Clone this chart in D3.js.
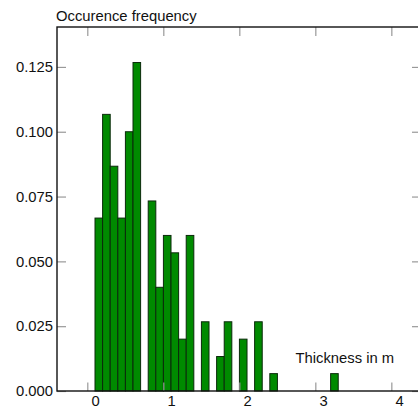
<!DOCTYPE html>
<html><head><meta charset="utf-8">
<script src="https://cdn.jsdelivr.net/npm/d3@7"></script>
<style>html,body{margin:0;padding:0;background:#fff;overflow:hidden}</style>
</head><body>
<script>
// Bin start values (m), bin width 0.1
const binStarts = [0.0,0.1,0.2,0.3,0.4,0.5,0.7,0.8,0.9,1.0,1.1,1.2,1.4,1.6,1.7,1.9,2.1,2.3,3.1];
const frequencies = [0.0667,0.1067,0.0867,0.0667,0.1000,0.1267,0.0733,0.0400,0.0600,0.0533,0.0200,0.0600,0.0267,0.0133,0.0267,0.0200,0.0267,0.0067,0.0067];
const binWidth = 0.1;
const xTicks = [0,1,2,3,4];
const yTicks = [0,0.025,0.05,0.075,0.1,0.125];
const yTitle = "Occurence frequency";
const xTitle = "Thickness in m";

(function(){
const W = 418, H = 409;
const mL = 57, mR = 421, mT = 27, mB = 391;
const svg = d3.select("body").append("svg").attr("width", W).attr("height", H)
  .style("font-family", "'Liberation Sans', Arial, sans-serif");

const x = d3.scaleLinear().domain([-0.5, 4.289]).range([mL, mR]);
const y = d3.scaleLinear().domain([0, 0.1404]).range([mB, mT]);

// bars
svg.append("g").selectAll("rect").data(binStarts).join("rect")
  .attr("x", (d) => x(d))
  .attr("width", (d) => x(d + binWidth) - x(d))
  .attr("y", (d, i) => y(frequencies[i]))
  .attr("height", (d, i) => y(0) - y(frequencies[i]))
  .attr("fill", "#008a00")
  .attr("stroke", "#0b2a0b")
  .attr("stroke-width", 1);

const tickOffset = -7.7;
const fs = "14.8px";
const ff = "'Liberation Sans', Arial, sans-serif";
// bottom axis
const gb = svg.append("g").attr("transform", `translate(0,${mB})`)
  .call(d3.axisBottom(x).tickValues(xTicks).tickFormat(d3.format("d")).tickSize(-8.5).tickPadding(6));
gb.select(".domain").remove();
gb.selectAll(".tick line").attr("x1", tickOffset).attr("x2", tickOffset).attr("stroke", "#999").attr("stroke-width", 1.2);
gb.selectAll(".tick text").attr("font-size", fs).attr("fill", "#111").attr("font-family", ff).attr("y", 15).attr("dy", "0");
// top axis ticks
const gt = svg.append("g").attr("transform", `translate(0,${mT})`)
  .call(d3.axisTop(x).tickValues(xTicks).tickFormat("").tickSize(-9));
gt.select(".domain").remove();
gt.selectAll(".tick line").attr("x1", tickOffset).attr("x2", tickOffset).attr("stroke", "#999").attr("stroke-width", 1.2);
// left axis
const gl = svg.append("g").attr("transform", `translate(${mL},0)`)
  .call(d3.axisLeft(y).tickValues(yTicks).tickFormat(d3.format(".3f")).tickSize(-9).tickPadding(4));
gl.select(".domain").remove();
gl.selectAll(".tick line").attr("stroke", "#999").attr("stroke-width", 1.2);
gl.selectAll(".tick text").attr("font-size", fs).attr("fill", "#111").attr("font-family", ff);
// right axis ticks
const gr = svg.append("g").attr("transform", `translate(${mR},0)`)
  .call(d3.axisRight(y).tickValues(yTicks).tickFormat("").tickSize(-9));
gr.select(".domain").remove();
gr.selectAll(".tick line").attr("stroke", "#999").attr("stroke-width", 1.2);

// frame
svg.append("rect").attr("x", mL).attr("y", mT).attr("width", mR - mL).attr("height", mB - mT)
  .attr("fill", "none").attr("stroke", "#111").attr("stroke-width", 1.4);

svg.append("text").attr("x", 56).attr("y", 21).attr("font-size", fs).attr("fill", "#111").text(yTitle);
svg.append("text").attr("x", 295.5).attr("y", 362.5).attr("font-size", fs).attr("fill", "#111").text(xTitle);
})();
</script>
</body></html>
